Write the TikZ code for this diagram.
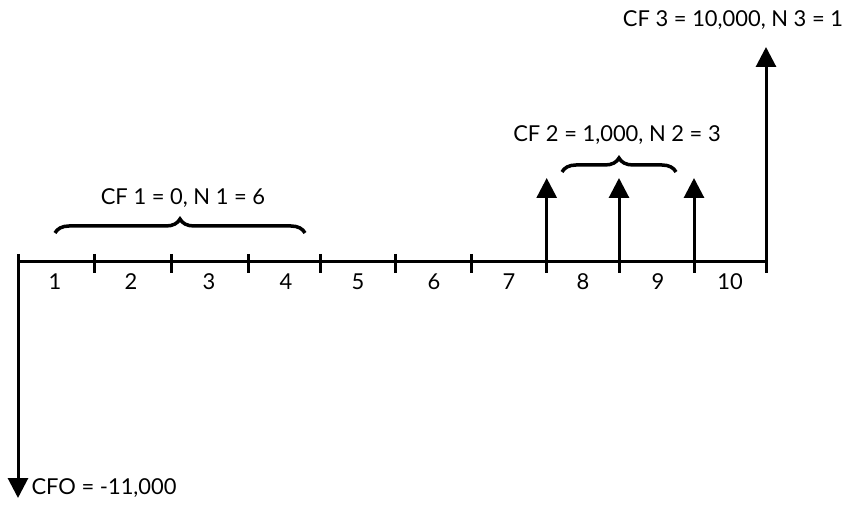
\documentclass[tikz,border=0pt]{standalone}
\usepackage{fontspec}
\setmainfont{Lato}
\usetikzlibrary{arrows.meta,decorations.pathreplacing}

\begin{document}
\begin{tikzpicture}[x=1bp,y=-1bp,line width=3bp,
  cfarrow/.style={-{Triangle[width=20bp,length=20bp]}},
  cfbrace/.style={decorate,decoration={brace,amplitude=14bp},line width=3.5bp},
  lbl/.style={font=\fontsize{22}{26}\selectfont,inner sep=0pt}]
\useasboundingbox (0,0) rectangle (857,509);
% time line
\coordinate (t0) at (18,262);
\coordinate (t10) at (766,262);
\draw (t0) -- (t10);
% small ticks
\foreach \i/\x in {1/94.7,2/171.5,3/248,4/320.7,5/395.7,6/471}
  \draw (\x,254) coordinate (a\i) -- (\x,273) coordinate (b\i);
% period numbers
\foreach \n/\x in {1/55,2/131,3/209,4/286,5/358,6/434,7/509,8/583,9/658,10/730}
  \node[lbl] (p\n) at (\x,282) {\n};
% cash flows
\coordinate (c0) at (18,254);
\coordinate (d0) at (18,498);
\draw[cfarrow] (c0) -- (d0);
\node[lbl,anchor=west] (cf0) at (30,488) {CFO = -11,000};
\foreach \i/\x in {7/546.7,8/619,9/694}{
  \coordinate (b\i) at (\x,273);
  \coordinate (u\i) at (\x,178);
  \draw[cfarrow] (b\i) -- (u\i);
}
\coordinate (b10) at (766,273);
\coordinate (u10) at (766,47);
\draw[cfarrow] (b10) -- (u10);
\node[lbl] (cf3) at (733,20) {CF 3 = 10,000, N 3 = 1};
% braces
\coordinate (l1) at (55,233);
\coordinate (r1) at (305,233);
\draw[cfbrace] (l1) -- (r1);
\node[lbl] (cf1) at (183,198) {CF 1 = 0, N 1 = 6};
\coordinate (l2) at (562,172);
\coordinate (r2) at (676,172);
\draw[cfbrace] (l2) -- (r2);
\node[lbl] (cf2) at (617,135) {CF 2 = 1,000, N 2 = 3};
\end{tikzpicture}
\end{document}
